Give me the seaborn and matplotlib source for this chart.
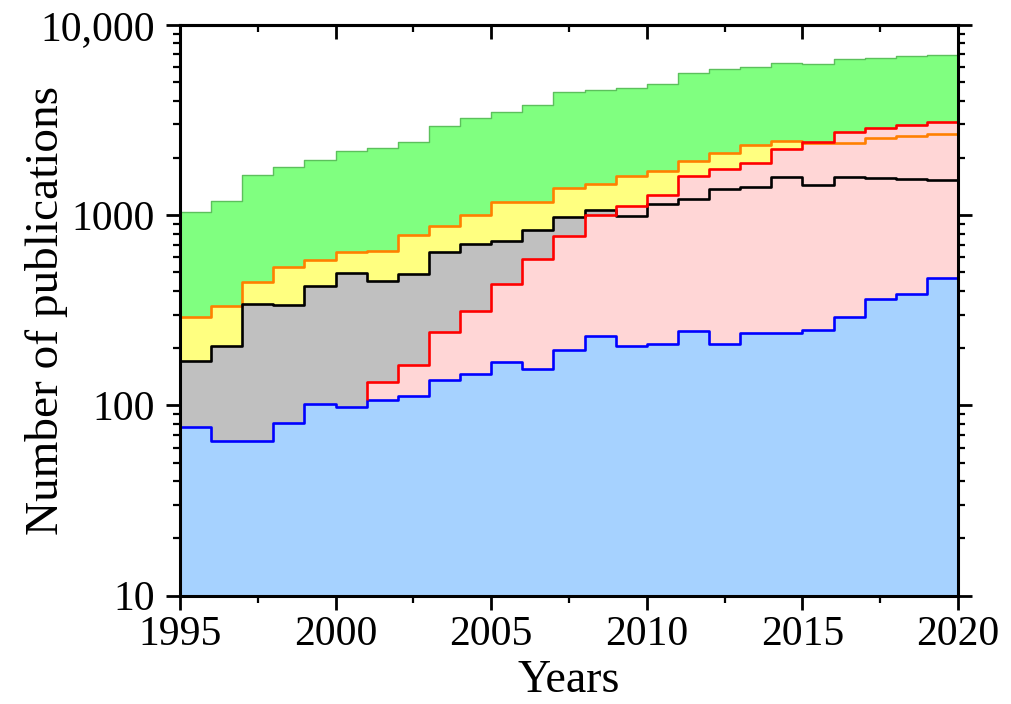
import matplotlib
matplotlib.use("Agg")
import matplotlib.pyplot as plt
import matplotlib.ticker as mticker
import seaborn as sns
import numpy as np

years = list(range(1995, 2020))
total_green = [1043, 1182, 1633, 1794, 1943, 2180, 2265, 2416, 2931, 3232, 3475, 3802,
               4430, 4577, 4673, 4920, 5603, 5883, 5998, 6324, 6250, 6637, 6721, 6886, 6950]
orange_vals = [293, 334, 445, 534, 578, 640, 650, 783, 877, 1006, 1174, 1180, 1395, 1465,
               1614, 1715, 1936, 2133, 2350, 2465, 2398, 2398, 2548, 2620, 2673]
black_vals = [172, 206, 342, 338, 422, 496, 452, 490, 637, 705, 731, 832, 981, 1069, 993,
              1145, 1222, 1373, 1410, 1588, 1447, 1580, 1570, 1555, 1537]
red_years = list(range(2001, 2020))
red_vals = [132, 163, 244, 313, 434, 588, 773, 997, 1122, 1282, 1600, 1750, 1883, 2238,
            2428, 2740, 2886, 2993, 3077]
blue_vals = [77, 65, 65, 81, 102, 98, 107, 112, 136, 147, 169, 155, 196, 231, 206, 210,
             245, 210, 241, 241, 248, 293, 362, 385, 467]

sns.set_theme(style="ticks")
plt.rcParams['font.family'] = ['Liberation Serif', 'DejaVu Serif']
plt.rcParams['text.color'] = 'black'
plt.rcParams['axes.labelcolor'] = 'black'
plt.rcParams['xtick.color'] = 'black'
plt.rcParams['ytick.color'] = 'black'

fig = plt.figure(figsize=(10.11, 7.04), dpi=100)
ax = fig.add_axes([0.178, 0.154, 0.7696, 0.8105])


def closed(xs, ys):
    return list(xs) + [xs[-1] + 1], list(ys) + [ys[-1]]


layers = [
    (years, total_green, "#80ff80", "#5cc05c", 1.0),
    (years, orange_vals, "#ffff80", "#ff8000", 1.9),
    (years, black_vals, "#c0c0c0", "#000000", 1.9),
    (red_years, red_vals, "#ffd6d6", "#ff0000", 1.9),
    (years, blue_vals, "#a6d2ff", "#0000ff", 1.9),
]

for xs, ys, fc, lc, lw in layers:
    xe, ye = closed(xs, ys)
    ax.fill_between(xe, 1, ye, step="post", color=fc, linewidth=0, zorder=1)

for xs, ys, fc, lc, lw in layers:
    xe, ye = closed(xs, ys)
    sns.lineplot(x=xe, y=ye, drawstyle="steps-post", color=lc, linewidth=lw, ax=ax,
                 zorder=3)

# red line left edge drop to the blue level
ax.vlines(red_years[0], blue_vals[years.index(red_years[0])], red_vals[0],
          color="#ff0000", linewidth=1.9, zorder=3)
ax.vlines(years[-1] + 1, blue_vals[-1], red_vals[-1], color="#ff0000", linewidth=1.9, zorder=3)

ax.set_yscale("log")
ax.set_ylim(10, 10000)
ax.set_xlim(1995, 2020)

ax.yaxis.set_major_locator(mticker.FixedLocator([10, 100, 1000, 10000]))
ax.yaxis.set_major_formatter(mticker.FixedFormatter(["10", "100", "1000", "10,000"]))
ax.yaxis.set_minor_locator(mticker.LogLocator(base=10, subs=np.arange(2, 10)))
ax.yaxis.set_minor_formatter(mticker.NullFormatter())

ax.xaxis.set_major_locator(mticker.MultipleLocator(5))
ax.xaxis.set_minor_locator(mticker.MultipleLocator(2.5))

ax.tick_params(axis="both", which="major", direction="out", length=10, width=2,
               labelsize=30)
ax.tick_params(axis="y", which="major", pad=8)
ax.tick_params(axis="x", which="major", pad=4)
ax.tick_params(axis="both", which="minor", direction="out", length=5, width=1.6)
ax.tick_params(axis="y", which="both", left=True, right=True)
ax.tick_params(axis="x", which="both", bottom=True, top=False)

secax = ax.secondary_xaxis("top")
secax.xaxis.set_major_locator(mticker.MultipleLocator(5))
secax.xaxis.set_minor_locator(mticker.MultipleLocator(2.5))
secax.tick_params(axis="x", which="major", direction="in", length=10, width=2, labeltop=False)
secax.tick_params(axis="x", which="minor", direction="in", length=5, width=1.6)
secax.spines["top"].set_linewidth(2.2)

for s in ax.spines.values():
    s.set_linewidth(2.2)
    s.set_color("black")
    s.set_zorder(5)

ax.set_xlabel("Years", fontsize=33, labelpad=4)
ax.set_ylabel("Number of publications", fontsize=34, va="center")
ax.yaxis.set_label_coords(-0.172, 0.5)

fig.savefig("out.png", dpi=100)
